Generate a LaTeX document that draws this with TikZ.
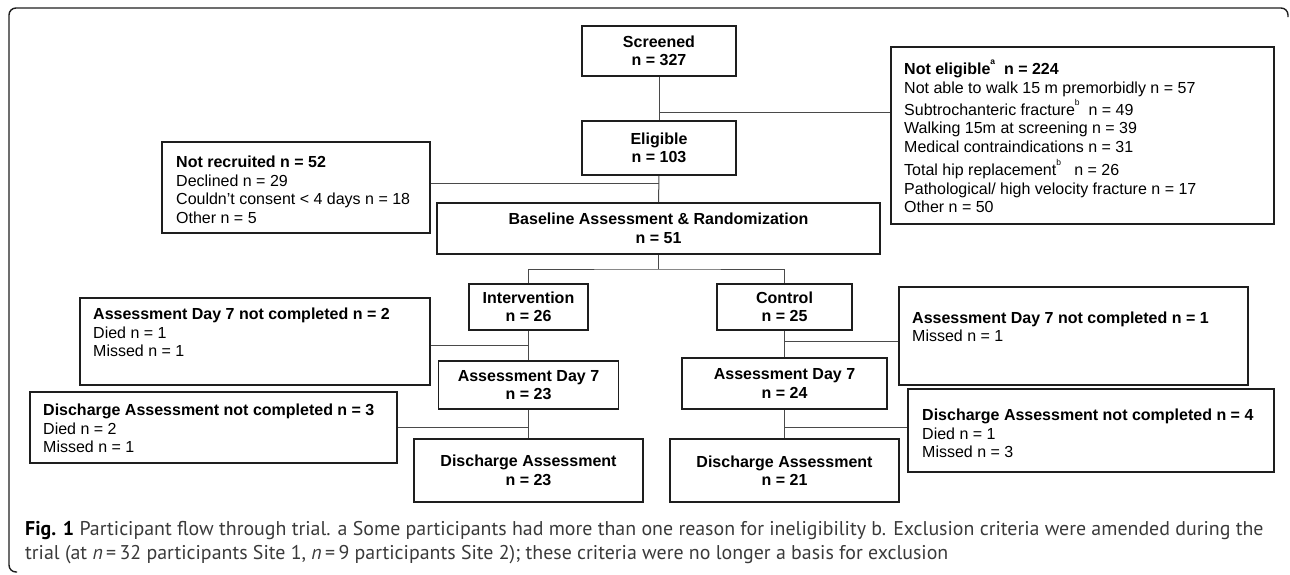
\documentclass[tikz,border=0pt]{standalone}
\usepackage{fontspec}
\setmainfont{Liberation Sans}
\newfontfamily\capfont{PT Sans}
\definecolor{boxc}{HTML}{1E1E1E}
\definecolor{linec}{HTML}{4A4A4A}
\definecolor{capc}{HTML}{3A3A3A}
\newcommand\firststrut{\rule{0pt}{12pt}}
\newcommand\supmark[1]{\smash{\raisebox{10pt}{\fontsize{8.5}{8.5}\selectfont #1}}}
\begin{document}
\begin{tikzpicture}[x=1pt,y=-1pt,
  box/.style={draw=boxc, line width=1.8pt, inner sep=0pt, align=center,
    font=\fontsize{16}{18.5}\selectfont\bfseries},
  lbl/.style={anchor=north west, inner sep=0pt, align=left,
    font=\fontsize{16}{18.5}\selectfont},
  conn/.style={draw=linec, line width=1pt},
  capt/.style={anchor=base west, inner sep=0pt, text=capc,
    font=\capfont\fontsize{19.9}{23}\selectfont}]
\useasboundingbox (0,0) rectangle (1290,574);
% outer frame
\draw[boxc, line width=1.4pt, rounded corners=7pt] (17,572) -- (9,572) -- (9,8) -- (1288,8) -- (1288,17);

% centred boxes
\node[box, minimum width=154pt, minimum height=50pt] (scr) at (659,51) {Screened\\n = 327};
\node[box, minimum width=154pt, minimum height=54pt] (eli) at (659,148) {Eligible\\n = 103};
\node[box, minimum width=443pt, minimum height=51pt] (base) at (658.5,228.5) {Baseline Assessment \& Randomization\\n = 51};
\node[box, minimum width=119pt, minimum height=46pt] (int) at (528.5,307) {Intervention\\n = 26};
\node[box, minimum width=135pt, minimum height=46pt] (ctl) at (784.5,307) {Control\\n = 25};
\node[box, minimum width=180pt, minimum height=48pt] (ad7l) at (528.5,385) {Assessment Day 7\\n = 23};
\node[box, minimum width=205pt, minimum height=51pt] (ad7r) at (784.5,383.5) {Assessment Day 7\\n = 24};
\node[box, minimum width=229pt, minimum height=63pt] (dal) at (528.5,470.5) {Discharge Assessment\\n = 23};
\node[box, minimum width=229pt, minimum height=63pt] (dar) at (784.5,470.5) {Discharge Assessment\\n = 21};

% side boxes (frames)
\node[box, minimum width=383pt, minimum height=177pt] (ne) at (1082.5,135.5) {};
\node[box, minimum width=268pt, minimum height=91pt] (nr) at (296,187.5) {};
\node[box, minimum width=350pt, minimum height=87pt] (nc7l) at (255,341.5) {};
\node[box, minimum width=349pt, minimum height=98pt] (nc7r) at (1073.5,336) {};
\node[box, minimum width=367pt, minimum height=71pt] (ncdl) at (213.5,427.5) {};
\node[box, minimum width=366pt, minimum height=83pt] (ncdr) at (1091,430.5) {};

% side box texts
\node[lbl] (net) at (904,62.4) {\firststrut\textbf{Not eligible\supmark{a}\ \ n = 224}\\
Not able to walk 15 m premorbidly n = 57\\[3.5pt]
Subtrochanteric fracture\supmark{b}\ \ n = 49\\
Walking 15m at screening n = 39\\
Medical contraindications n = 31\\[5pt]
Total hip replacement\supmark{b}\ \ \ n = 26\\
Pathological/ high velocity fracture n = 17\\
Other n = 50};
\node[lbl] (nrt) at (176,155.4) {\firststrut\textbf{Not recruited n = 52}\\
Declined n = 29\\
Couldn’t consent < 4 days n = 18\\
Other n = 5};
\node[lbl] (nc7lt) at (93,307.7) {\firststrut\textbf{Assessment Day 7 not completed n = 2}\\
Died n = 1\\
Missed n = 1};
\node[lbl] (nc7rt) at (912,311) {\firststrut\textbf{Assessment Day 7 not completed n = 1}\\
Missed n = 1};
\node[lbl] (ncdlt) at (43,403.4) {\firststrut\textbf{Discharge Assessment not completed n = 3}\\
Died n = 2\\
Missed n = 1};
\node[lbl] (ncdrt) at (922,408.4) {\firststrut\textbf{Discharge Assessment not completed n = 4}\\
Died n = 1\\
Missed n = 3};

% connectors
\coordinate (j1) at (659,112);
\coordinate (j2) at (659,183);
\coordinate (jb) at (658.5,269);
\coordinate (j4) at (528.5,345);
\coordinate (j5) at (784.5,341);
\coordinate (j6) at (528.5,427);
\coordinate (j7) at (784.5,427);
\draw[conn] (scr) -- (eli);
\draw[conn] (j1) -- (j1 -| ne.west);
\draw[conn] (eli) -- (base);
\draw[conn] (j2) -- (j2 -| nr.east);
\draw[conn] (base.south) -- (jb);
\draw[conn] (int.north) |- (jb) -| (ctl.north);
\draw[conn] (int) -- (ad7l);
\draw[conn] (j4) -- (j4 -| nc7l.east);
\draw[conn] (ctl) -- (ad7r);
\draw[conn] (j5) -- (j5 -| nc7r.west);
\draw[conn] (ad7l) -- (dal);
\draw[conn] (j6) -- (j6 -| ncdl.east);
\draw[conn] (ad7r) -- (dar);
\draw[conn] (j7) -- (j7 -| ncdr.west);

% caption
\node[capt] (cap1) at (25,535.7) {{\bfseries\color{black}Fig. 1} Participant flow through trial. a Some participants had more than one reason for ineligibility b. Exclusion criteria were amended during the};
\node[capt] (cap2) at (25,559) {trial (at \textit{n}\,=\,32 participants Site 1, \textit{n}\,=\,9 participants Site 2); these criteria were no longer a basis for exclusion};
\end{tikzpicture}
\end{document}
